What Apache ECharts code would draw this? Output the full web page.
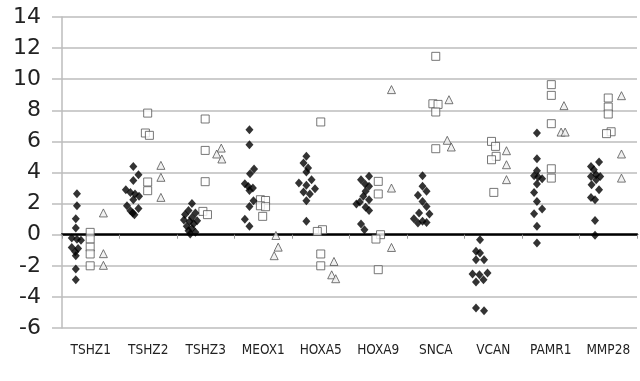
<!DOCTYPE html>
<html>
<head>
<meta charset="utf-8">
<script src="https://cdn.jsdelivr.net/npm/echarts@6/dist/echarts.min.js"></script>
<style>
html, body { margin: 0; padding: 0; background: #fff; }
#chart { width: 640px; height: 381px; }
</style>
</head>
<body>
<div id="chart"></div>
<script>
// gene names along the bottom
const categories = ['TSHZ1', 'TSHZ2', 'TSHZ3', 'MEOX1', 'HOXA5', 'HOXA9', 'SNCA', 'VCAN', 'PAMR1', 'MMP28']
const yMin = -6
const yMax = 14

// filled diamonds, one list per gene
const diamonds = [
  [2.64, 1.86, 1.03, 0.43, -0.22, -0.3, -0.35, -0.82, -0.88, -1.1, -1.35, -2.2, -2.9],
  [4.39, 3.86, 3.49, 2.89, 2.72, 2.62, 2.47, 2.25, 1.86, 1.69, 1.54, 1.39, 1.29],
  [2.0, 1.55, 1.4, 1.3, 1.1, 0.95, 0.9, 0.85, 0.7, 0.55, 0.4, 0.25, 0.15, 0.05],
  [6.75, 5.79, 4.22, 3.92, 3.28, 3.1, 3.0, 2.85, 2.19, 1.82, 1.0, 0.54],
  [5.04, 4.61, 4.29, 4.03, 3.54, 3.33, 3.18, 2.96, 2.75, 2.62, 2.19, 0.86],
  [3.76, 3.54, 3.26, 3.11, 2.79, 2.47, 2.25, 2.1, 1.97, 1.76, 1.55, 0.69, 0.32],
  [3.79, 3.11, 2.79, 2.53, 2.14, 1.82, 1.39, 1.33, 1.03, 0.86, 0.79, 0.75],
  [-0.32, -1.07, -1.18, -1.61, -1.61, -2.47, -2.53, -2.57, -2.89, -3.04, -4.72, -4.89],
  [6.54, 4.89, 4.12, 3.79, 3.71, 3.6, 3.26, 2.72, 2.14, 1.65, 1.35, 0.54, -0.54],
  [4.67, 4.39, 4.18, 3.86, 3.75, 3.75, 3.54, 3.22, 2.89, 2.4, 2.25, 0.92, -0.04]
]
// where each diamond sits inside its gene's slot (0 = left edge, 1 = right edge)
const diamondX = [
  [0.26, 0.26, 0.24, 0.24, 0.17, 0.26, 0.33, 0.17, 0.28, 0.23, 0.24, 0.24, 0.24],
  [0.24, 0.33, 0.24, 0.11, 0.19, 0.27, 0.34, 0.24, 0.13, 0.33, 0.19, 0.23, 0.26],
  [0.26, 0.2, 0.32, 0.14, 0.26, 0.12, 0.35, 0.22, 0.29, 0.17, 0.26, 0.2, 0.32, 0.23],
  [0.26, 0.26, 0.34, 0.27, 0.18, 0.24, 0.32, 0.26, 0.33, 0.26, 0.18, 0.26],
  [0.25, 0.2, 0.28, 0.25, 0.34, 0.12, 0.25, 0.4, 0.2, 0.31, 0.25, 0.25],
  [0.34, 0.2, 0.27, 0.34, 0.28, 0.24, 0.34, 0.18, 0.12, 0.28, 0.34, 0.2, 0.26],
  [0.27, 0.27, 0.34, 0.19, 0.27, 0.34, 0.21, 0.39, 0.12, 0.27, 0.34, 0.19],
  [0.27, 0.2, 0.27, 0.2, 0.34, 0.4, 0.14, 0.26, 0.33, 0.2, 0.2, 0.34],
  [0.26, 0.26, 0.26, 0.21, 0.28, 0.35, 0.26, 0.21, 0.26, 0.35, 0.21, 0.26, 0.26],
  [0.34, 0.2, 0.25, 0.29, 0.2, 0.36, 0.29, 0.21, 0.34, 0.2, 0.27, 0.27, 0.27]
]

// open squares
const squares = [
  [0.15, -0.28, -0.8, -1.24, -2.0],
  [7.82, 6.54, 6.39, 3.39, 2.83],
  [7.44, 5.42, 3.41, 1.5, 1.29],
  [2.25, 2.2, 1.86, 1.8, 1.18],
  [7.25, 0.32, 0.21, -1.24, -2.0],
  [3.43, 2.62, 0.0, -0.28, -2.25],
  [11.47, 8.42, 8.38, 7.89, 5.53],
  [6.0, 5.68, 5.04, 4.82, 2.72],
  [9.65, 8.96, 7.14, 4.24, 3.64],
  [8.79, 8.21, 7.76, 6.62, 6.5]
]
const squareX = [
  [0.49, 0.49, 0.49, 0.49, 0.49],
  [0.49, 0.45, 0.52, 0.49, 0.49],
  [0.49, 0.49, 0.49, 0.45, 0.53],
  [0.45, 0.54, 0.45, 0.54, 0.49],
  [0.5, 0.53, 0.44, 0.5, 0.5],
  [0.5, 0.5, 0.54, 0.46, 0.5],
  [0.5, 0.45, 0.54, 0.5, 0.5],
  [0.47, 0.54, 0.55, 0.47, 0.51],
  [0.51, 0.51, 0.51, 0.51, 0.51],
  [0.5, 0.5, 0.5, 0.55, 0.47]
]

// open triangles
const triangles = [
  [1.4, -1.22, -1.97],
  [4.46, 3.69, 2.4],
  [5.57, 5.19, 4.87],
  [-0.05, -0.8, -1.35],
  [-1.72, -2.58, -2.83],
  [9.33, 3.0, -0.82],
  [8.68, 6.07, 5.64],
  [5.4, 4.5, 3.54],
  [8.3, 6.6, 6.6],
  [8.94, 5.19, 3.64]
]
const triangleX = [
  [0.72, 0.72, 0.72],
  [0.72, 0.72, 0.72],
  [0.77, 0.69, 0.78],
  [0.72, 0.76, 0.69],
  [0.73, 0.69, 0.76],
  [0.73, 0.73, 0.73],
  [0.73, 0.7, 0.77],
  [0.73, 0.73, 0.73],
  [0.73, 0.68, 0.75],
  [0.73, 0.73, 0.73]
]

function points(vals, xs){
  let out = []
  vals.forEach((list, i)=>{
    list.forEach((v, j)=>{
      out.push([i + xs[i][j], v])
    })
  })
  return out
}

let chart = echarts.init(document.getElementById('chart'))
const gridColor = '#bdbdbd'
chart.setOption({
  animation: false,
  grid: { left: 62, right: 3, top: 17, bottom: 53 },
  xAxis: [
    // hidden axis that places the points
    { type: 'value', min: 0, max: categories.length, show: false },
    // names at the bottom
    {
      type: 'category',
      data: categories,
      position: 'bottom',
      axisLine: { show: false, onZero: false },
      axisTick: { show: false },
      axisLabel: { interval: 0, margin: 15, color: '#222', fontSize: 13.5, fontFamily: 'DejaVu Sans Condensed' }
    },
    // black line at zero
    {
      type: 'category',
      data: categories,
      position: 'bottom',
      axisLine: { show: true, onZero: true, onZeroAxisIndex: 0, lineStyle: { color: '#000', width: 2.5 } },
      axisTick: { show: true, length: 4, lineStyle: { color: '#999' } },
      axisLabel: { show: false }
    }
  ],
  yAxis: {
    type: 'value',
    min: yMin,
    max: yMax,
    interval: 2,
    axisLine: { show: true, onZero: false, lineStyle: { color: gridColor, width: 1.5 } },
    axisTick: { show: true, length: 10, lineStyle: { color: gridColor, width: 1.5 } },
    splitLine: { lineStyle: { color: gridColor, width: 1.5 } },
    axisLabel: { margin: 21, fontSize: 22, fontFamily: 'DejaVu Sans', color: '#222' }
  },
  series: [
    {
      type: 'scatter',
      xAxisIndex: 0,
      symbol: 'diamond',
      symbolSize: [8, 9],
      itemStyle: { color: '#000' },
      data: points(diamonds, diamondX),
      z: 5
    },
    {
      type: 'scatter',
      xAxisIndex: 0,
      symbol: 'rect',
      symbolSize: 8,
      itemStyle: { color: '#fff', borderColor: '#555', borderWidth: 1 },
      data: points(squares, squareX),
      z: 4
    },
    {
      type: 'scatter',
      xAxisIndex: 0,
      symbol: 'triangle',
      symbolSize: 8,
      itemStyle: { color: '#eee', borderColor: '#555', borderWidth: 1 },
      data: points(triangles, triangleX),
      z: 4
    }
  ]
})
</script>
</body>
</html>
